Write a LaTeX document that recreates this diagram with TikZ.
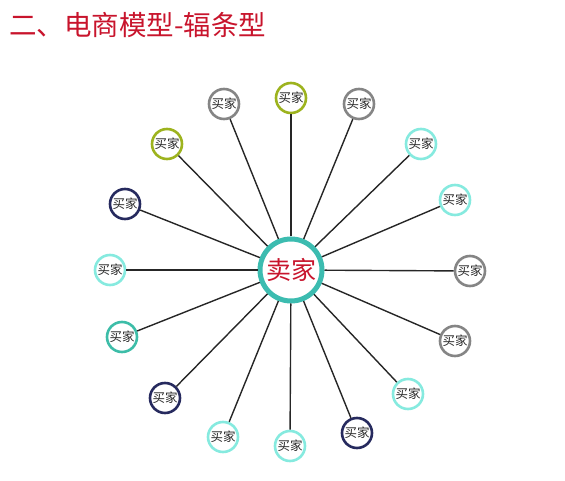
\documentclass[tikz,border=0pt]{standalone}
\usepackage{fontspec}
\newfontfamily\cjk{Noto Sans CJK SC}
\definecolor{cgray}{HTML}{858585}
\definecolor{cgreen}{HTML}{9DB31E}
\definecolor{ccyan}{HTML}{86EADF}
\definecolor{cteal}{HTML}{3DBDA8}
\definecolor{cnavy}{HTML}{262A5E}
\definecolor{cmid}{HTML}{3CBCB0}
\definecolor{cred}{HTML}{C8142C}
\begin{document}
\begin{tikzpicture}[x=1pt,y=-1pt,
  buyer/.style={circle,fill=white,line width=2.6pt,minimum size=30pt,inner sep=0pt,
    font=\cjk\fontsize{12.5}{12.5}\selectfont,text=black!85},
  spoke/.style={line width=1.4pt,draw=black!85}]
\useasboundingbox (0,0) rectangle (565,481);
\node[anchor=west,text=cred,font=\cjk\fontsize{27.5}{27.5}\selectfont,inner sep=0pt] (title) at (9,25) {二、电商模型-辐条型};
\node[circle,fill=white,draw=cmid,line width=5pt,minimum size=62pt,inner sep=0pt,
  text=cred,font=\cjk\fontsize{25}{25}\selectfont] (c) at (291,270) {卖家};
\foreach \n/\x/\y/\col in {
  b1/291/98/cgreen, b2/224/104/cgray, b3/359/104/cgray, b4/167/144/cgreen,
  b5/421/144/ccyan, b6/125/204/cnavy, b7/455/200/ccyan, b8/110/270/ccyan,
  b9/470/271/cgray, b10/122/337/cteal, b11/455/341/cgray, b12/165/398/cnavy,
  b13/408/394/ccyan, b14/223/437/ccyan, b15/290/446/ccyan, b16/357/433/cnavy}{
  \node[buyer,draw=\col] (\n) at (\x,\y) {买家};
  \draw[spoke] (c) -- (\n);
}
\end{tikzpicture}
\end{document}
